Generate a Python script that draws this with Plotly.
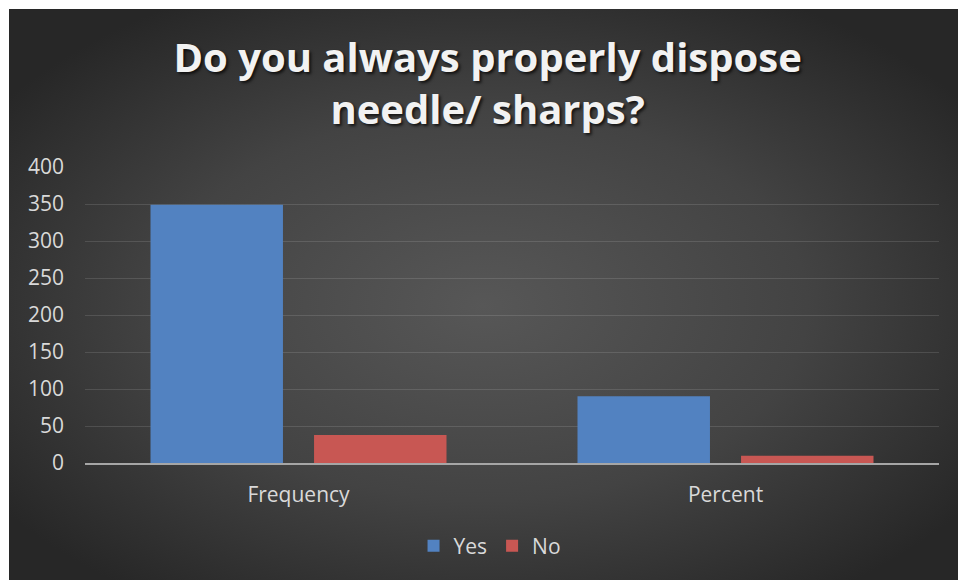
import plotly.graph_objects as go
import urllib.parse

# Survey answers, shown as raw counts and as percentages
categories = ["Frequency", "Percent"]
series_names = ["Yes", "No"]
yes_values = [349, 90.2]
no_values = [38, 9.8]
y_ticks = [0, 50, 100, 150, 200, 250, 300, 350, 400]

W, H = 958, 580
M_L, M_R, M_T, M_B = 85, 19, 167, 117
FRAME = 9  # white strip on the top and left edges

BLUE = "#5282c1"
RED = "#c85753"
TEXT = "#d9d9d9"
FONT = "Open Sans"

fig = go.Figure()
fig.add_trace(go.Bar(name=series_names[0], x=categories, y=yes_values,
                     marker=dict(color=BLUE, line=dict(width=0))))
fig.add_trace(go.Bar(name=series_names[1], x=categories, y=no_values,
                     marker=dict(color=RED, line=dict(width=0))))

# Radial-gradient backdrop for the chart frame, as an inline SVG
svg = (
    '<svg xmlns="http://www.w3.org/2000/svg" width="949" height="571" '
    'preserveAspectRatio="none" viewBox="0 0 949 571">'
    '<defs><radialGradient id="g" cx="50%" cy="52%" r="62%" '
    'gradientUnits="objectBoundingBox">'
    '<stop offset="0" stop-color="#575757"/>'
    '<stop offset="0.55" stop-color="#434343"/>'
    '<stop offset="1" stop-color="#272727"/>'
    '</radialGradient></defs>'
    '<rect width="949" height="571" fill="url(#g)"/></svg>'
)
bg_src = "data:image/svg+xml;charset=utf-8," + urllib.parse.quote(svg)

pw = W - M_L - M_R
ph = H - M_T - M_B
fig.add_layout_image(
    source=bg_src, xref="paper", yref="paper",
    x=(FRAME - M_L) / pw, y=1 + (M_T - FRAME) / ph,
    sizex=(W - FRAME) / pw, sizey=(H - FRAME) / ph,
    xanchor="left", yanchor="top", sizing="stretch", layer="below",
)

fig.update_layout(
    width=W, height=H,
    margin=dict(l=M_L, r=M_R, t=M_T, b=M_B),
    paper_bgcolor="white",
    plot_bgcolor="rgba(0,0,0,0)",
    barmode="group",
    bargap=0.234,
    bargroupgap=0.19,
    font=dict(family=FONT, color=TEXT, size=21),
    title=dict(
        text="Do you always properly dispose<br>needle/ sharps?",
        x=0.509, xanchor="center", xref="container",
        y=1 - 72 / H, yanchor="top", yref="container",
        font=dict(family=FONT, size=40, color="#f2f2f2", weight="bold",
                  shadow="2px 2px 3px rgba(0,0,0,0.7)"),
    ),
    legend=dict(
        orientation="h", xref="container", yref="container",
        x=0.511, xanchor="center", y=1 - 546 / H, yanchor="middle",
        font=dict(family=FONT, size=21, color=TEXT),
        bgcolor="rgba(0,0,0,0)", itemwidth=30, tracegroupgap=0,
    ),
    showlegend=True,
)

fig.update_xaxes(
    showline=True, linecolor="#a6a6a6", linewidth=2,
    showgrid=False, ticks="", ticklabelstandoff=12,
    tickfont=dict(family=FONT, size=21, color=TEXT),
)
fig.update_yaxes(
    range=[0, 400], tickvals=y_ticks, ticktext=[str(v) for v in y_ticks],
    showgrid=True, gridcolor="rgba(255,255,255,0.12)", gridwidth=1,
    zeroline=False, showline=False, ticks="", ticklabelstandoff=20,
    tickfont=dict(family=FONT, size=21, color=TEXT),
)

fig.write_html("out.html")
